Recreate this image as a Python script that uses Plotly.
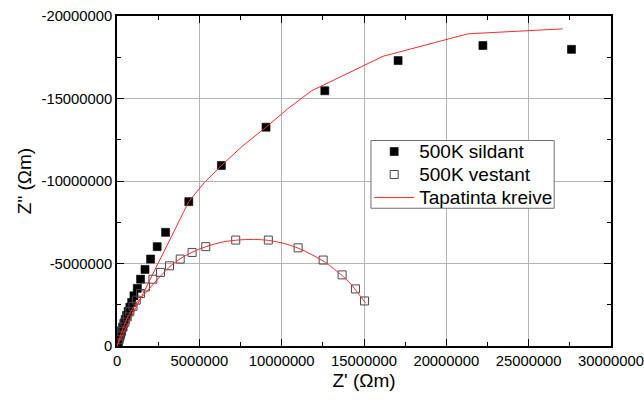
import plotly.graph_objects as go

# Filled squares: 500K sildant (Z', Z'')
sil_x = [27.6e6, 22.22e6, 17.07e6, 12.62e6, 9.05e6, 6.34e6, 4.36e6, 2.95e6, 2.44e6, 2.04e6,
         1.70e6, 1.43e6, 1.23e6, 1.03e6, 0.89e6, 0.78e6, 0.68e6, 0.58e6, 0.50e6, 0.42e6,
         0.35e6, 0.28e6, 0.22e6, 0.16e6, 0.11e6, 0.07e6, 0.04e6]
sil_y = [-17.98e6, -18.21e6, -17.30e6, -15.47e6, -13.26e6, -10.94e6, -8.75e6, -6.89e6, -6.02e6, -5.27e6,
         -4.64e6, -4.05e6, -3.49e6, -3.04e6, -2.64e6, -2.35e6, -2.10e6, -1.85e6, -1.60e6, -1.38e6,
         -1.15e6, -0.93e6, -0.72e6, -0.52e6, -0.34e6, -0.20e6, -0.09e6]

# Open squares: 500K vestant
ves_x = [15.03e6, 14.48e6, 13.67e6, 12.52e6, 11.0e6, 9.19e6, 7.21e6, 5.39e6, 4.56e6, 3.84e6,
         3.19e6, 2.64e6, 2.18e6, 1.73e6, 1.43e6, 1.17e6, 0.97e6, 0.78e6, 0.62e6, 0.48e6,
         0.36e6, 0.26e6, 0.18e6, 0.12e6, 0.08e6]
ves_y = [-2.73e6, -3.46e6, -4.31e6, -5.21e6, -5.95e6, -6.42e6, -6.42e6, -6.02e6, -5.67e6, -5.27e6,
         -4.86e6, -4.46e6, -4.05e6, -3.58e6, -3.18e6, -2.78e6, -2.40e6, -2.08e6, -1.76e6, -1.45e6,
         -1.15e6, -0.87e6, -0.60e6, -0.38e6, -0.20e6]

# Fitted curve (Tapatinta kreive) for sildant
fit1_x = [0, 0.4e6, 0.8e6, 1.2e6, 1.6e6, 2.0e6, 2.5e6, 3.0e6, 3.64e6, 4.36e6, 5.3e6, 6.34e6,
          7.6e6, 9.05e6, 10.4e6, 11.82e6, 16.16e6, 21.31e6, 27.07e6]
fit1_y = [0, -0.8e6, -1.6e6, -2.4e6, -3.2e6, -4.0e6, -5.0e6, -6.0e6, -7.29e6, -8.75e6, -9.9e6, -10.94e6,
          -12.1e6, -13.26e6, -14.4e6, -15.47e6, -17.56e6, -18.92e6, -19.22e6]

# Fitted curve for vestant
fit2_x = [0, 0.3e6, 0.6e6, 1.0e6, 1.4e6, 1.73e6, 2.2e6, 2.7e6, 3.2e6, 3.76e6, 4.5e6, 5.4e6,
          6.4e6, 7.3e6, 8.3e6, 9.2e6, 10.2e6, 11.0e6, 11.9e6, 12.6e6, 13.2e6, 13.7e6, 14.2e6, 14.6e6, 15.1e6]
fit2_y = [0, -0.9e6, -1.65e6, -2.35e6, -2.85e6, -3.2e6, -3.75e6, -4.3e6, -4.8e6, -5.24e6, -5.65e6, -6.02e6,
          -6.3e6, -6.42e6, -6.46e6, -6.4e6, -6.2e6, -5.93e6, -5.5e6, -5.1e6, -4.65e6, -4.25e6, -3.75e6, -3.25e6, -2.6e6]

# Tick labels
x_tickvals = [0, 5e6, 10e6, 15e6, 20e6, 25e6, 30e6]
x_ticktext = ["0", "5000000", "10000000", "15000000", "20000000", "25000000", "30000000"]
y_tickvals = [0, -5e6, -10e6, -15e6, -20e6]
y_ticktext = ["0", "-5000000", "-10000000", "-15000000", "-20000000"]

FONT = "Liberation Sans, Arial, sans-serif"


def leg(name):
    return '<span style="font-size:19px">' + name + '</span>'


fig = go.Figure()
fig.add_trace(go.Scatter(x=sil_x, y=sil_y, mode="markers", name=leg("500K sildant"),
                         marker=dict(symbol="square", size=8, color="black",
                                     line=dict(color="black", width=0.6))))
fig.add_trace(go.Scatter(x=ves_x, y=ves_y, mode="markers", name=leg("500K vestant"),
                         marker=dict(symbol="square-open", size=8, color="#4a4a4a",
                                     line=dict(color="#4a4a4a", width=1))))
fig.add_trace(go.Scatter(x=fit1_x, y=fit1_y, mode="lines", name=leg("Tapatinta kreive"),
                         line=dict(color="#ff2a2a", width=1)))
fig.add_trace(go.Scatter(x=fit2_x, y=fit2_y, mode="lines", name="Tapatinta kreive",
                         showlegend=False, line=dict(color="#ff2a2a", width=1, shape="spline")))

axis_common = dict(
    showline=True, linecolor="black", linewidth=1.6, mirror="ticks",
    ticks="inside", ticklen=7, tickwidth=1.3, tickcolor="black",
    showgrid=True, gridcolor="#b4b4b4", gridwidth=1,
    zeroline=False, ticklabeloverflow="allow", automargin=False,
    tickfont=dict(family=FONT, size=14.8, color="black"),
    minor=dict(ticks="inside", ticklen=4, tickwidth=1.2, tickcolor="black",
               showgrid=False, dtick=2.5e6),
)

fig.update_layout(
    width=644, height=403,
    margin=dict(l=117, r=33, t=16, b=57, autoexpand=False),
    plot_bgcolor="white", paper_bgcolor="white",
    font=dict(family=FONT, size=15, color="black"),
    xaxis=dict(range=[0, 30e6], tickmode="array", tickvals=x_tickvals, ticktext=x_ticktext,
               title=dict(text="Z' (Ωm)", font=dict(size=19), standoff=6),
               **axis_common),
    yaxis=dict(range=[0, -20e6], tickmode="array", tickvals=y_tickvals, ticktext=y_ticktext,
               title=dict(text='Z" (Ωm)', font=dict(size=19), standoff=5),
               **axis_common),
    legend=dict(x=0.5105, y=0.6394, xanchor="left", yanchor="top",
                bgcolor="rgba(0,0,0,0)", borderwidth=0,
                font=dict(family=FONT, size=15.4), tracegroupgap=0, itemwidth=40),
    shapes=[dict(type="rect", xref="paper", yref="paper",
                 x0=0.5141, x1=0.885, y0=0.4174, y1=0.6227,
                 line=dict(color="#707070", width=1), fillcolor="white", layer="above")],
    showlegend=True,
)

fig.write_html("out.html")
